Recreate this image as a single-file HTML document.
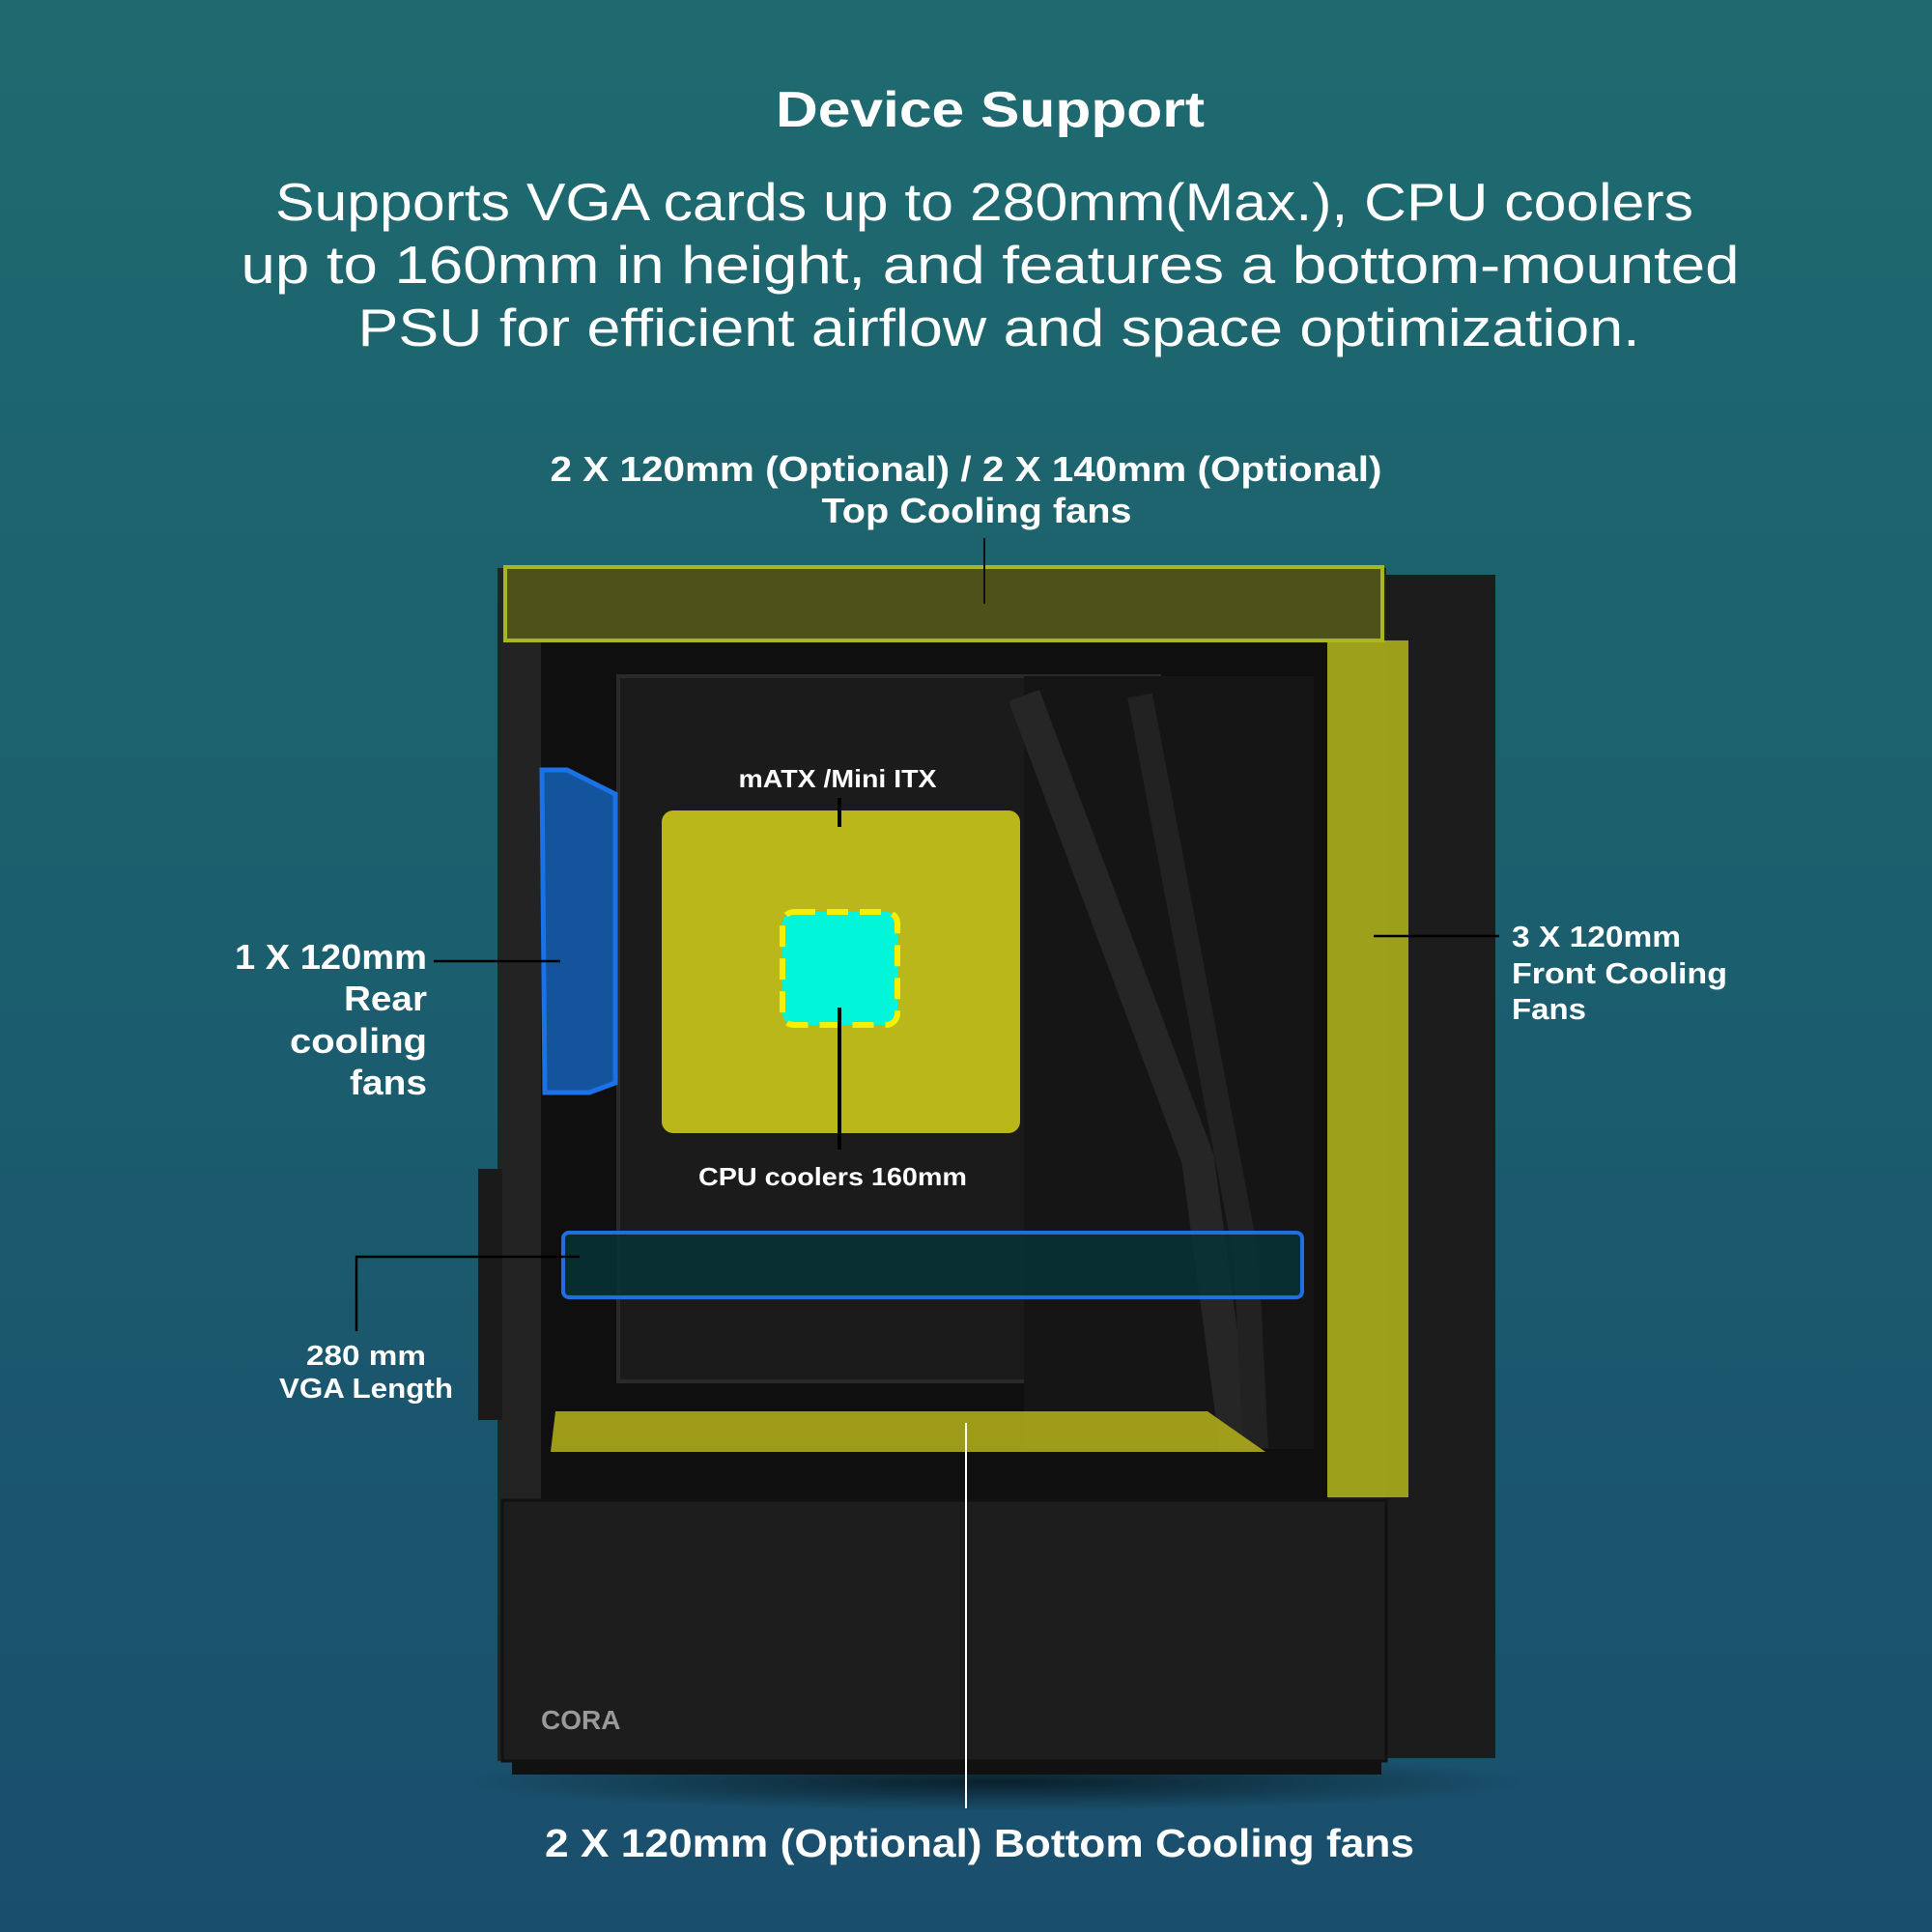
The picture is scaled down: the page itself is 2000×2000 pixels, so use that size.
<!DOCTYPE html>
<html><head><meta charset="utf-8"><style>
html,body{margin:0;padding:0}
body{width:2000px;height:2000px;overflow:hidden;background:linear-gradient(180deg,#1f6a6f 0%,#1b5e6e 50%,#1a4e6d 100%);font-family:"Liberation Sans",sans-serif;}
</style></head><body>
<svg width="2000" height="2000" viewBox="0 0 2000 2000" xmlns="http://www.w3.org/2000/svg" style="position:absolute;left:0;top:0">
<defs>
<radialGradient id="sh" cx="0.5" cy="0.5" r="0.5"><stop offset="0" stop-color="#000" stop-opacity="0.6"/><stop offset="1" stop-color="#000" stop-opacity="0"/></radialGradient>
</defs>
<g font-family="Liberation Sans, sans-serif" fill="#fff" text-anchor="middle" lengthAdjust="spacingAndGlyphs">
<text x="1025" y="131" font-size="52" font-weight="bold" textLength="444" lengthAdjust="spacingAndGlyphs">Device Support</text>
<text x="1019" y="228" font-size="55" textLength="1468" lengthAdjust="spacingAndGlyphs">Supports VGA cards up to 280mm(Max.), CPU coolers</text>
<text x="1025" y="293" font-size="55" textLength="1551" lengthAdjust="spacingAndGlyphs">up to 160mm in height, and features a bottom-mounted</text>
<text x="1034" y="358" font-size="55" textLength="1327" lengthAdjust="spacingAndGlyphs">PSU for efficient airflow and space optimization.</text>
<text x="1000" y="498" font-size="36" font-weight="bold" textLength="861" lengthAdjust="spacingAndGlyphs">2 X 120mm (Optional) / 2 X 140mm (Optional)</text>
<text x="1011" y="541" font-size="36" font-weight="bold" textLength="321" lengthAdjust="spacingAndGlyphs">Top Cooling fans</text>
</g>
<ellipse cx="1030" cy="1845" rx="560" ry="30" fill="url(#sh)"/>
<rect x="1420" y="595" width="128" height="1225" fill="#1c1c1c"/>
<rect x="515" y="588" width="920" height="1235" fill="#232323"/>
<rect x="560" y="665" width="815" height="890" fill="#0f0f0f"/>
<rect x="640" y="700" width="560" height="730" fill="#1b1b1b" stroke="#2a2a2a" stroke-width="4"/>
<rect x="1060" y="700" width="300" height="800" fill="#151515"/>
<path d="M1060 720 L1240 1200 L1280 1500" stroke="#262626" stroke-width="34" fill="none"/>
<path d="M1180 720 L1290 1300 L1300 1500" stroke="#222" stroke-width="26" fill="none"/>
<rect x="495" y="1210" width="25" height="260" fill="#1a1a1a"/>
<rect x="520" y="1553" width="915" height="270" fill="#1d1d1d" stroke="#111" stroke-width="3"/>
<rect x="530" y="1823" width="900" height="14" fill="#111"/>
<text x="560" y="1790" font-family="Liberation Sans, sans-serif" font-size="28" font-weight="bold" fill="#9a9a9a">CORA</text>
<rect x="523" y="587" width="908" height="76" fill="#6f7a10" fill-opacity="0.55" stroke="#a7b81f" stroke-width="4"/>
<line x1="1019" y1="557" x2="1019" y2="625" stroke="#111" stroke-width="2"/>
<rect x="1374" y="663" width="84" height="887" fill="#b3b61a" fill-opacity="0.85"/>
<path d="M561 797 L587 797 L637 822 L637 1121 L610 1131 L564 1131 Z" fill="#1565c0" fill-opacity="0.8" stroke="#1a72e8" stroke-width="5"/>
<rect x="685" y="839" width="371" height="334" rx="12" fill="#c8c41a" fill-opacity="0.92"/>
<rect x="810" y="944" width="119" height="117" rx="12" fill="#00f5d9" stroke="#f4f000" stroke-width="6" stroke-dasharray="22 12"/>
<line x1="869" y1="826" x2="869" y2="856" stroke="#000" stroke-width="4"/>
<line x1="869" y1="1043" x2="869" y2="1190" stroke="#000" stroke-width="4"/>
<rect x="583" y="1276" width="765" height="67" rx="6" fill="#05343a" fill-opacity="0.8" stroke="#1f6fe0" stroke-width="4"/>
<path d="M575 1461 L1250 1461 L1310 1503 L570 1503 Z" fill="#b6b41a" fill-opacity="0.85"/>
<line x1="1000" y1="1473" x2="1000" y2="1872" stroke="#fff" stroke-width="2"/>
<line x1="449" y1="995" x2="580" y2="995" stroke="#000" stroke-width="2.5"/>
<line x1="1422" y1="969" x2="1552" y2="969" stroke="#000" stroke-width="2.5"/>
<polyline points="600,1301 369,1301 369,1378" stroke="#000" stroke-width="2.5" fill="none"/>
<g font-family="Liberation Sans, sans-serif" fill="#fff" font-weight="bold">
<g text-anchor="end" font-size="36">
<text x="442" y="1003" textLength="199" lengthAdjust="spacingAndGlyphs">1 X 120mm</text>
<text x="442" y="1046" textLength="86" lengthAdjust="spacingAndGlyphs">Rear</text>
<text x="442" y="1090" textLength="142" lengthAdjust="spacingAndGlyphs">cooling</text>
<text x="442" y="1133" textLength="80" lengthAdjust="spacingAndGlyphs">fans</text>
</g>
<g font-size="31">
<text x="1565" y="980" textLength="175" lengthAdjust="spacingAndGlyphs">3 X 120mm</text>
<text x="1565" y="1018" textLength="223" lengthAdjust="spacingAndGlyphs">Front Cooling</text>
<text x="1565" y="1055" textLength="77" lengthAdjust="spacingAndGlyphs">Fans</text>
</g>
<g text-anchor="middle" font-size="29">
<text x="379" y="1413" textLength="124" lengthAdjust="spacingAndGlyphs">280 mm</text>
<text x="379" y="1447" textLength="180" lengthAdjust="spacingAndGlyphs">VGA Length</text>
<text x="867" y="815" font-size="26" textLength="205" lengthAdjust="spacingAndGlyphs">mATX /Mini ITX</text>
<text x="862" y="1227" font-size="26" textLength="278" lengthAdjust="spacingAndGlyphs">CPU coolers  160mm</text>
<text x="1014" y="1922" font-size="41" textLength="900" lengthAdjust="spacingAndGlyphs">2 X 120mm (Optional) Bottom Cooling fans</text>
</g>
</g>
</svg>
</body></html>
